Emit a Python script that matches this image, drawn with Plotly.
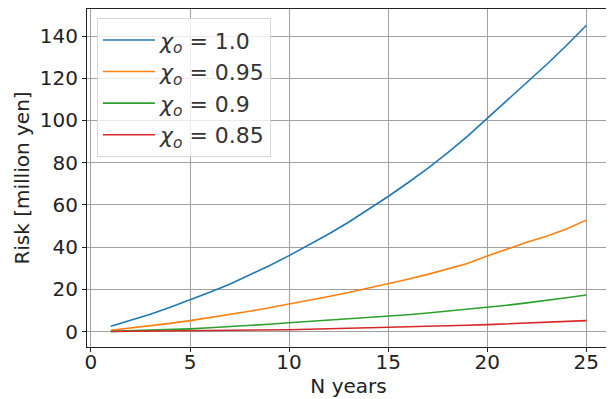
import plotly.graph_objects as go

years = list(range(1, 26))
risk_10 = [2.5, 5.3, 8.2, 11.5, 15.0, 18.6, 22.4, 26.7, 31.2, 36.0, 41.0, 46.2, 51.8,
           57.7, 64.0, 70.5, 77.3, 84.6, 92.5, 101.0, 109.5, 117.8, 126.5, 135.5, 145.0]
risk_095 = [0.6, 1.6, 2.8, 3.9, 5.2, 6.6, 8.0, 9.6, 11.3, 13.0, 14.8, 16.6, 18.5,
            20.5, 22.6, 24.8, 27.1, 29.5, 32.2, 35.8, 39.2, 42.3, 45.2, 48.6, 52.8]
risk_090 = [0.1, 0.35, 0.6, 0.9, 1.3, 1.8, 2.3, 2.9, 3.5, 4.2, 4.8, 5.4, 6.0,
            6.6, 7.2, 8.0, 8.8, 9.7, 10.5, 11.5, 12.5, 13.6, 14.7, 16.0, 17.3]
risk_085 = [0.02, 0.08, 0.15, 0.25, 0.35, 0.45, 0.55, 0.65, 0.78, 0.9, 1.1, 1.3, 1.5,
            1.75, 2.0, 2.25, 2.5, 2.75, 3.0, 3.3, 3.7, 4.0, 4.4, 4.8, 5.2]
labels = ["1.0", "0.95", "0.9", "0.85"]
colors = ["#1f77b4", "#ff7f0e", "#2ca02c", "#d62728"]
series = [risk_10, risk_095, risk_090, risk_085]

fig = go.Figure()
for lab, col, ys in zip(labels, colors, series):
    fig.add_trace(go.Scatter(x=years, y=ys, mode="lines",
                             line=dict(color=col, width=1.6),
                             name=f"<i>χ<sub>o</sub></i> = {lab}"))

font = "DejaVu Sans, sans-serif"
# the page body has an 8px margin, so the figure is sized and offset to compensate
fig.update_layout(
    width=606, height=391,
    margin=dict(l=79, r=4, t=1, b=52),
    paper_bgcolor="white", plot_bgcolor="white",
    font=dict(family=font, size=20, color="#222"),
    showlegend=True,
    legend=dict(x=0.019, y=0.973, xanchor="left", yanchor="top",
                bgcolor="rgba(255,255,255,0.8)", bordercolor="#d8d8d8", borderwidth=1,
                itemwidth=52,
                font=dict(size=22, color="#333")),
    xaxis=dict(range=[-0.2, 26.2], tickvals=[0, 5, 10, 15, 20, 25],
               showgrid=True, gridcolor="#a0a0a0", gridwidth=1,
               showline=True, linecolor="#222", linewidth=1.2, mirror=True,
               ticks="outside", ticklen=4, tickcolor="#222",
               ticklabelstandoff=-7,
               zeroline=False, automargin=False,
               title=dict(text="N years", standoff=2, font=dict(size=20))),
    yaxis=dict(range=[-7.3, 152.8], tickvals=[0, 20, 40, 60, 80, 100, 120, 140],
               showgrid=True, gridcolor="#a0a0a0", gridwidth=1,
               showline=True, linecolor="#222", linewidth=1.2, mirror=True,
               ticks="outside", ticklen=4, tickcolor="#222",
               zeroline=False, automargin=False,
               title=dict(text="Risk [million yen]", standoff=4, font=dict(size=20))),
)
fig.write_html("out.html")
